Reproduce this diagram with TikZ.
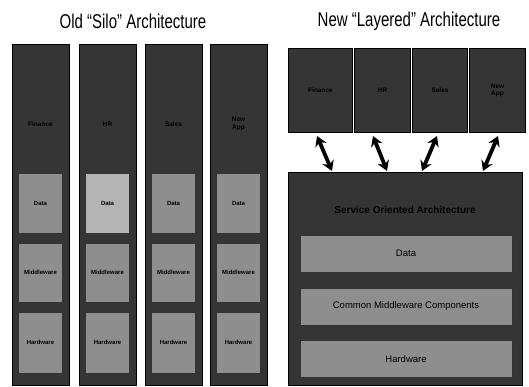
\documentclass[tikz,border=0pt]{standalone}
\usepackage{fontspec}
\setmainfont{Liberation Sans}
\usetikzlibrary{arrows.meta,calc}

\definecolor{halftone}{HTML}{353535}
\definecolor{midgray}{HTML}{8E8E8E}
\definecolor{palegray}{HTML}{B4B4B4}

\begin{document}
\begin{tikzpicture}[x=1pt,y=-1pt,>=Stealth,
  silo/.style={fill=halftone,draw=black,line width=1pt,minimum width=57pt,minimum height=340pt,inner sep=0pt},
  slab/.style={fill=midgray,draw=black!80,line width=0.6pt,minimum width=44pt,inner sep=0pt,font=\fontsize{6}{7}\selectfont\bfseries},
  band/.style={fill=midgray,draw=black!80,line width=0.6pt,minimum width=212pt,minimum height=37pt,inner sep=0pt,font=\fontsize{9.5}{11}\selectfont},
  appbox/.style={fill=halftone,draw=black,line width=1pt,minimum height=84pt,inner sep=0pt,anchor=north west},
  tag/.style={font=\fontsize{6.5}{7.5}\selectfont\bfseries,align=center,text=black},
  heading/.style={font=\fontsize{20}{22}\selectfont},
  dblarrow/.style={{Stealth[length=10pt,width=12pt]}-{Stealth[length=10pt,width=12pt]},line width=3.8pt,black}]

\useasboundingbox (0,0) rectangle (529,387);

% ============================================================
% 1. OLD SILO ARCHITECTURE
% ============================================================

\node[heading] (oldtitle) at (133,21) {\scalebox{0.75}[1]{Old “Silo” Architecture}};

\foreach \i/\x/\app in {1/12/Finance,2/79/HR,3/145/Sales,4/210/{New\\App}}{
  \node[silo] (silo\i) at (\x+28.5,215) {};
  \node[tag] (silotag\i) at (\x+28.5,124) {\app};
  \node[slab,minimum height=60pt] (data\i) at (\x+28.5,203) {Data};
  \node[slab,minimum height=59pt] (mid\i) at (\x+28.5,272.5) {Middleware};
  \node[slab,minimum height=61pt] (hw\i) at (\x+28.5,342.5) {Hardware};
}
% lighter data block in the second silo
\node[slab,minimum height=60pt,fill=palegray] at (data2) {Data};

% ============================================================
% 2. NEW LAYERED ARCHITECTURE
% ============================================================

\node[heading] (newtitle) at (409,21) {\scalebox{0.75}[1]{New “Layered” Architecture}};

% application boxes
\foreach \i/\x/\w/\app in {1/288/64/Finance,2/354/56/HR,3/412/55/Sales,4/469/56/{New\\App}}{
  \node[appbox,minimum width=\w pt] (app\i) at (\x,48) {};
  \node[tag] (apptag\i) at (app\i.center) {\app};
}

% service layer stack
\node[fill=halftone,draw=black,line width=1pt,minimum width=234pt,minimum height=213pt,inner sep=0pt,anchor=north west]
  (soa) at (288,172) {};
\node[font=\fontsize{10}{11}\selectfont\bfseries,text=black] (soatitle) at (405,210) {Service Oriented Architecture};
\node[band] (ldata) at (406,253.5) {Data};
\node[band] (lmid) at (406,306.5) {Common Middleware Components};
\node[band] (lhw) at (406,359) {Hardware};

% arrow ends
\coordinate (a1s) at (317,136);
\coordinate (a1e) at (332,171);
\coordinate (a2s) at (373,136);
\coordinate (a2e) at (387,171);
\coordinate (a3s) at (437,136);
\coordinate (a3e) at (422,171);
\coordinate (a4s) at (498,136);
\coordinate (a4e) at (483,171);

\foreach \k in {1,...,4}{
  \draw[dblarrow] (a\k s) -- (a\k e);
}

\end{tikzpicture}
\end{document}
